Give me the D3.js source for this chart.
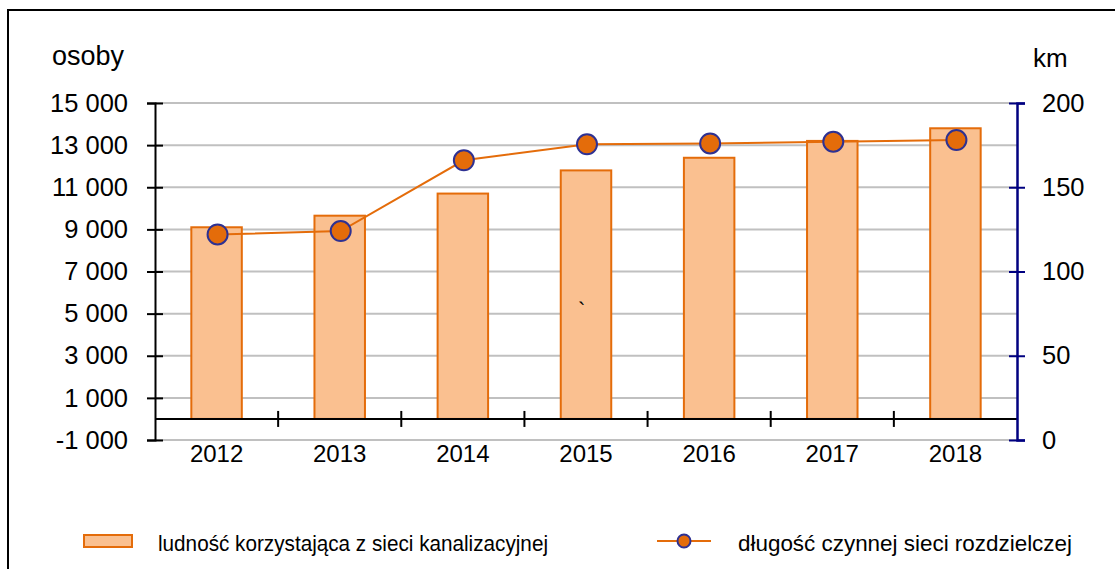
<!DOCTYPE html>
<html>
<head>
<meta charset="utf-8">
<script src="https://cdn.jsdelivr.net/npm/d3@7"></script>
<style>
  body { margin: 0; background: #fff; }
  svg { display: block; font-family: "Liberation Sans", Arial, sans-serif; }
</style>
</head>
<body>
<div id="chart-area"></div>
<script>
// data
var years = ["2012", "2013", "2014", "2015", "2016", "2017", "2018"];
var ludnosc = [9100, 9650, 10700, 11800, 12400, 13200, 13800];
var dlugosc = [122, 124, 166, 175.5, 176, 177, 178];
var leftTicks = [-1000, 1000, 3000, 5000, 7000, 9000, 11000, 13000, 15000];
var rightTicks = [0, 50, 100, 150, 200];

var W = 1115, H = 569;
var margin = { left: 155, right: 98, top: 103, bottom: 129 };
var width = W - margin.left - margin.right,
    height = H - margin.top - margin.bottom;

var svg = d3.select("#chart-area")
    .append("svg")
        .attr("width", W)
        .attr("height", H);

// frame (left and top visible)
svg.append("rect")
    .attr("x", 8)
    .attr("y", 10)
    .attr("width", W + 20)
    .attr("height", H + 20)
    .attr("fill", "none")
    .attr("stroke", "#000")
    .attr("stroke-width", 2);

var g = svg.append("g")
    .attr("transform", "translate(" + margin.left + "," + margin.top + ")");

var x = d3.scaleBand()
    .domain(years)
    .range([0, width]);

var y = d3.scaleLinear()
    .domain([-1000, 15000])
    .range([height, 0]);

var y1 = d3.scaleLinear()
    .domain([0, 200])
    .range([height, 0]);

// gridlines
g.selectAll("line.grid")
    .data(leftTicks)
    .enter().append("line")
        .attr("class", "grid")
        .attr("x1", 0)
        .attr("x2", width)
        .attr("y1", function(d) { return y(d); })
        .attr("y2", function(d) { return y(d); })
        .attr("stroke", "#c0c0c0")
        .attr("stroke-width", 2);

// bars
var bw = x.bandwidth() * 0.41;
g.selectAll("rect.bar")
    .data(ludnosc)
    .enter().append("rect")
        .attr("class", "bar")
        .attr("x", function(d, i) { return x(years[i]) + x.bandwidth() / 2 - bw / 2; })
        .attr("y", function(d) { return y(d); })
        .attr("width", bw)
        .attr("height", function(d) { return y(0) - y(d); })
        .attr("fill", "#fac090")
        .attr("stroke", "#e46c0a")
        .attr("stroke-width", 2);

// stray mark
g.append("text")
    .attr("x", 578 - margin.left)
    .attr("y", 318 - margin.top)
    .attr("font-size", "22px")
    .attr("fill", "#000")
    .text("`");

// x axis at zero
g.append("line")
    .attr("x1", 0).attr("x2", width)
    .attr("y1", y(0)).attr("y2", y(0))
    .attr("stroke", "#000").attr("stroke-width", 2);

g.selectAll("line.xtick")
    .data(years.slice(1))
    .enter().append("line")
        .attr("class", "xtick")
        .attr("x1", function(d) { return x(d); })
        .attr("x2", function(d) { return x(d); })
        .attr("y1", y(0) - 8)
        .attr("y2", y(0) + 8)
        .attr("stroke", "#000").attr("stroke-width", 2);

g.selectAll("text.xlab")
    .data(years)
    .enter().append("text")
        .attr("class", "xlab")
        .attr("x", function(d) { return x(d) + x.bandwidth() / 2; })
        .attr("y", height + 22)
        .attr("text-anchor", "middle")
        .attr("font-size", "24px")
        .attr("fill", "#000")
        .text(function(d) { return d; });

// left axis
var yAxisCall = d3.axisLeft(y)
    .tickValues(leftTicks)
    .tickSize(8)
    .tickFormat(function(d) { return d3.format(",")(d).replace(/,/g, " ").replace("−", "-"); });
var ya = g.append("g")
    .attr("class", "y axis")
    .call(yAxisCall);
ya.select(".domain").attr("stroke", "#000").attr("stroke-width", 2);
ya.selectAll(".tick line").attr("stroke", "#000").attr("stroke-width", 2).attr("x2", 8).attr("x1", -8);
ya.selectAll(".tick text").attr("font-size", "25.5px").attr("fill", "#000")
    .attr("font-family", "Liberation Sans, Arial, sans-serif").attr("x", -27);

// right axis
var y1AxisCall = d3.axisRight(y1)
    .tickValues(rightTicks)
    .tickSize(8)
    .tickFormat(function(d) { return d; });
var ya1 = g.append("g")
    .attr("class", "y1 axis")
    .attr("transform", "translate(" + width + ",0)")
    .call(y1AxisCall);
ya1.select(".domain").attr("stroke", "#000080").attr("stroke-width", 2.5);
ya1.selectAll(".tick line").attr("stroke", "#000080").attr("stroke-width", 2).attr("x1", -8).attr("x2", 8);
ya1.selectAll(".tick text").attr("font-size", "25.5px").attr("fill", "#000")
    .attr("font-family", "Liberation Sans, Arial, sans-serif").attr("x", 25);

// unit labels
svg.append("text")
    .attr("x", 52).attr("y", 65)
    .attr("font-size", "27px")
    .text("osoby");
svg.append("text")
    .attr("x", 1033).attr("y", 67)
    .attr("font-size", "26px")
    .text("km");

// line series
var line = d3.line()
    .x(function(d, i) { return x(years[i]) + x.bandwidth() / 2 + 1; })
    .y(function(d) { return y1(d); });

g.append("path")
    .datum(dlugosc)
    .attr("d", line)
    .attr("fill", "none")
    .attr("stroke", "#e46c0a")
    .attr("stroke-width", 2);

g.selectAll("circle.pt")
    .data(dlugosc)
    .enter().append("circle")
        .attr("class", "pt")
        .attr("cx", function(d, i) { return x(years[i]) + x.bandwidth() / 2 + 1; })
        .attr("cy", function(d) { return y1(d); })
        .attr("r", 10)
        .attr("fill", "#e46c0a")
        .attr("stroke", "#2e3192")
        .attr("stroke-width", 2);

// legend
var legend = svg.append("g");
legend.append("rect")
    .attr("x", 84).attr("y", 535)
    .attr("width", 48).attr("height", 12)
    .attr("fill", "#fac090")
    .attr("stroke", "#e46c0a")
    .attr("stroke-width", 2);
legend.append("text")
    .attr("x", 158).attr("y", 551)
    .attr("font-size", "22px")
    .attr("textLength", 390)
    .attr("lengthAdjust", "spacingAndGlyphs")
    .text("ludność korzystająca z  sieci kanalizacyjnej");

legend.append("line")
    .attr("x1", 657).attr("x2", 711)
    .attr("y1", 541).attr("y2", 541)
    .attr("stroke", "#e46c0a")
    .attr("stroke-width", 2);
legend.append("circle")
    .attr("cx", 684).attr("cy", 541)
    .attr("r", 6.5)
    .attr("fill", "#e46c0a")
    .attr("stroke", "#2e3192")
    .attr("stroke-width", 2);
legend.append("text")
    .attr("x", 738).attr("y", 551)
    .attr("font-size", "22px")
    .attr("textLength", 334)
    .attr("lengthAdjust", "spacingAndGlyphs")
    .text("długość czynnej sieci rozdzielczej");
</script>
</body>
</html>
